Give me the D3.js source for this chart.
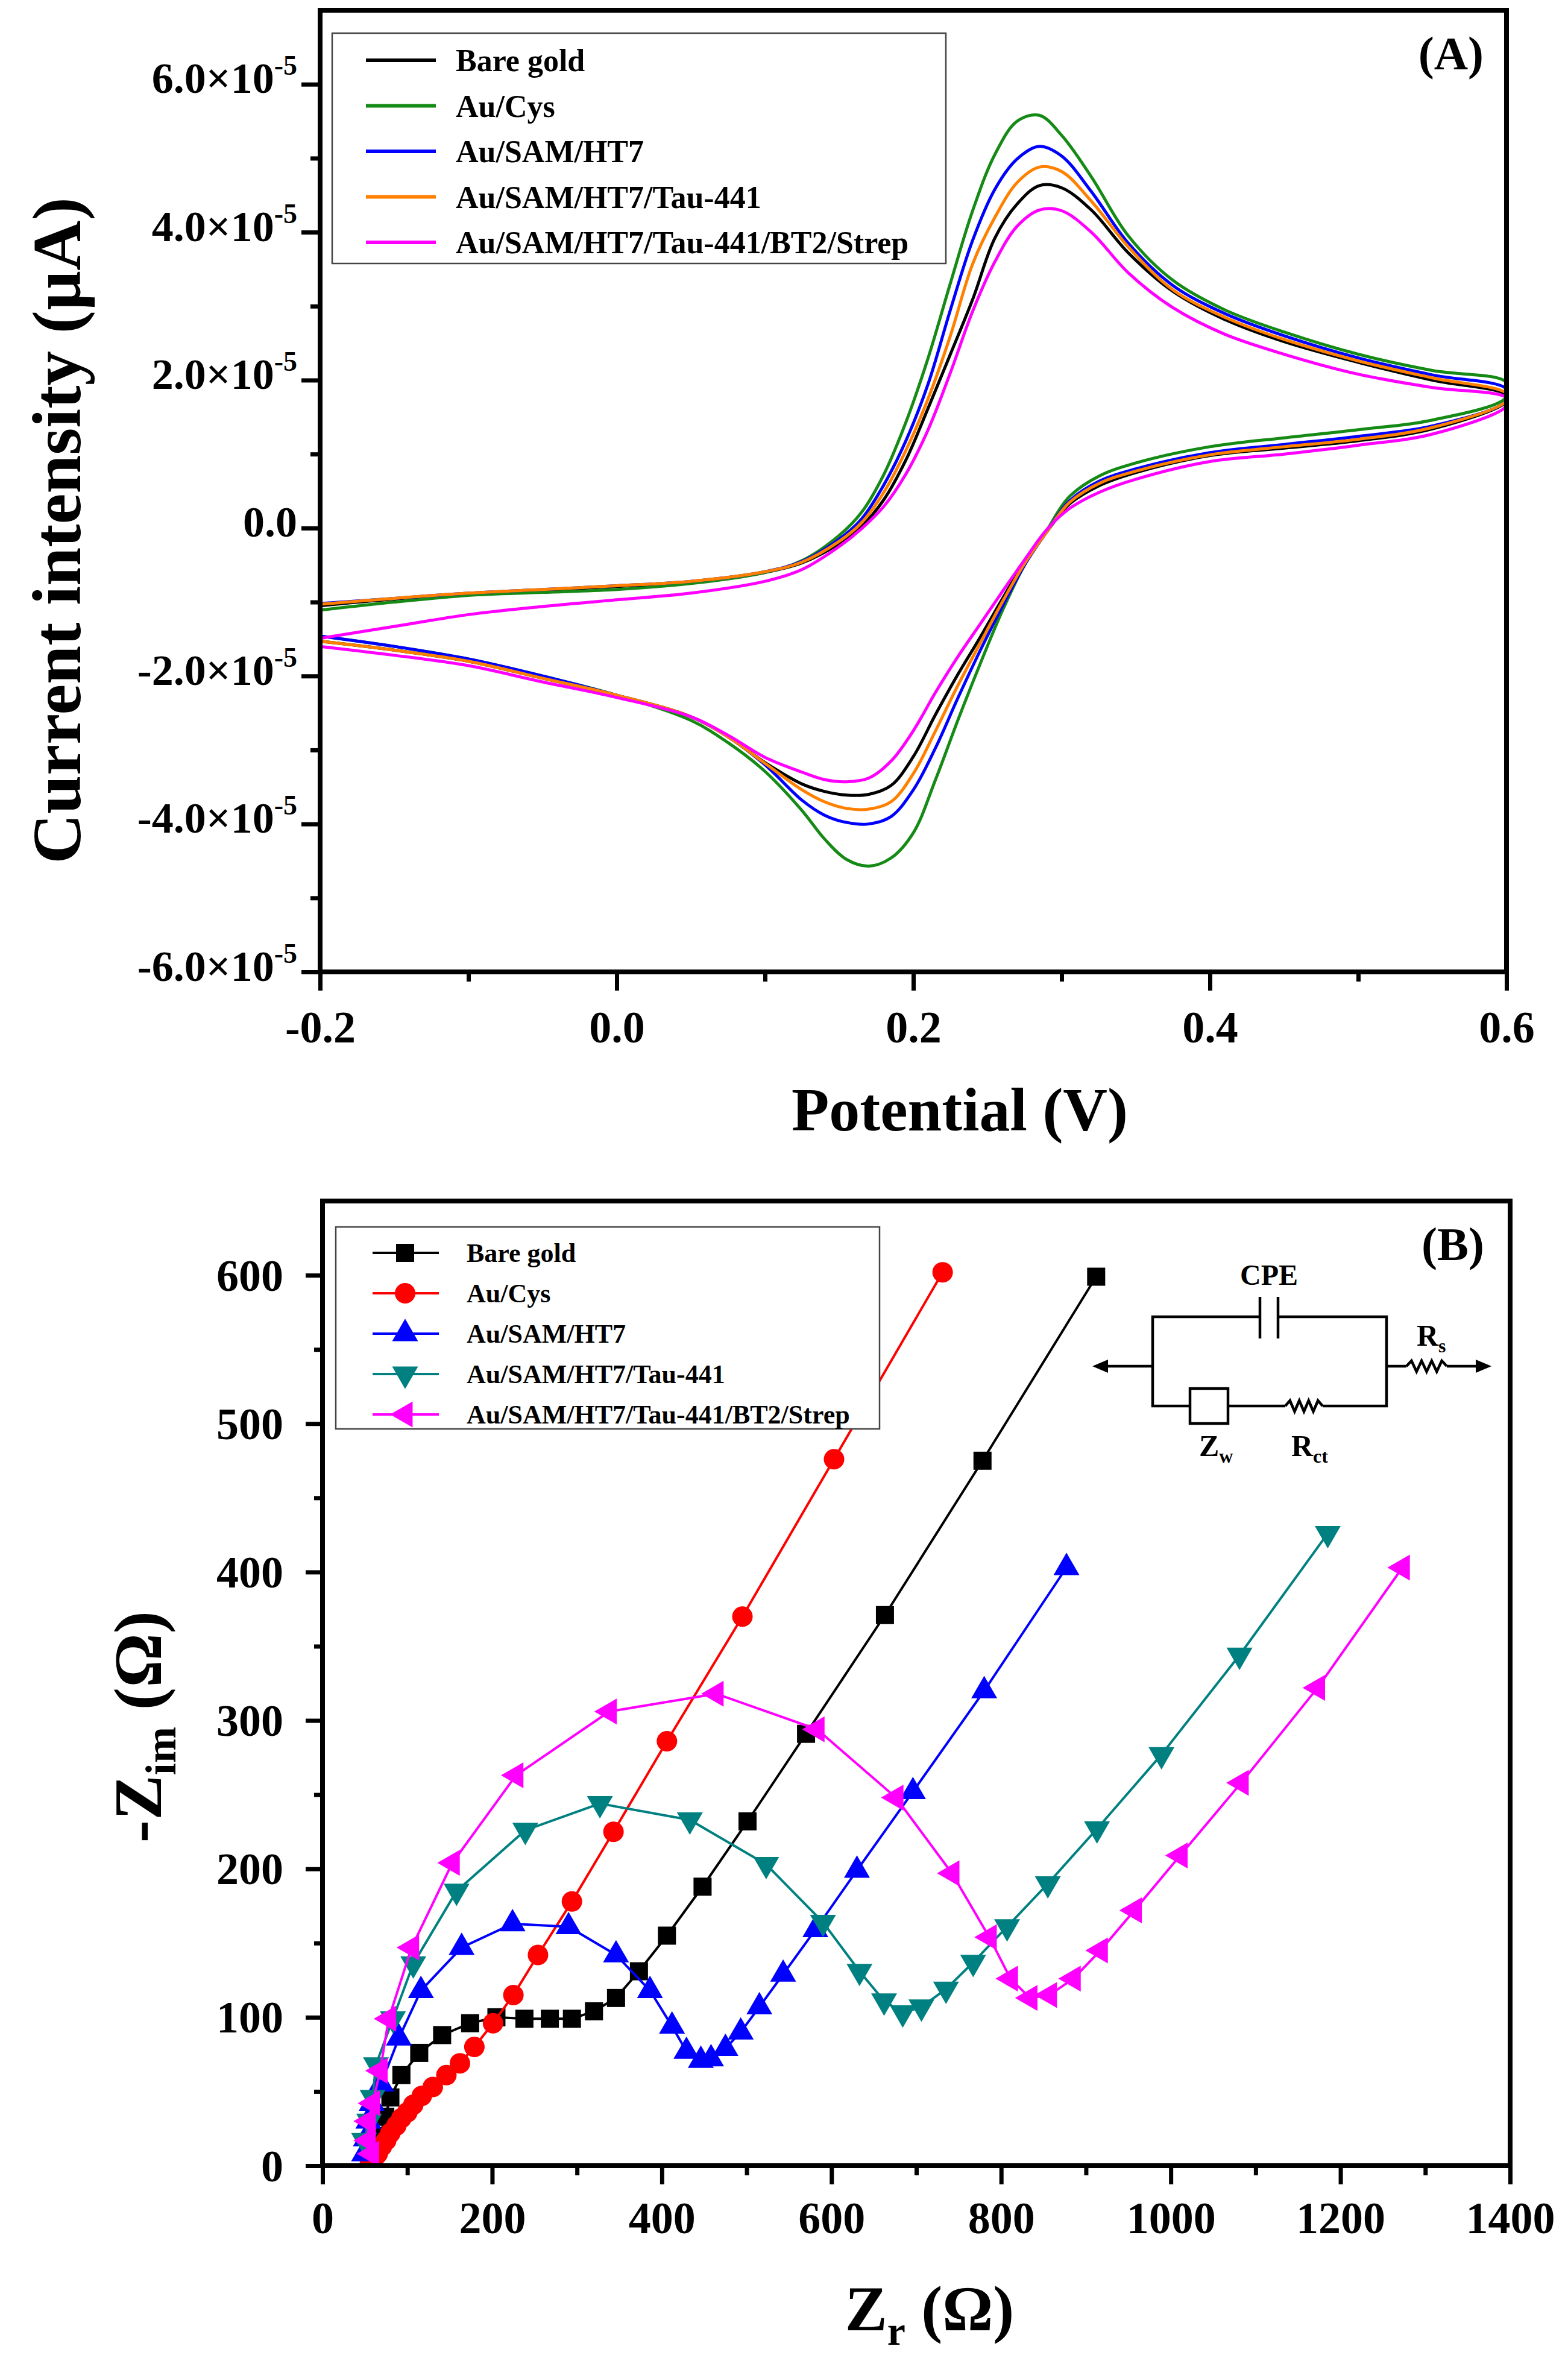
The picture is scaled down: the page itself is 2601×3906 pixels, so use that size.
<!DOCTYPE html>
<html>
<head>
<meta charset="utf-8">
<script src="https://cdn.jsdelivr.net/npm/d3@7"></script>
<style>
  body { margin: 0; background: #fff; }
</style>
</head>
<body>
<div id="chart"></div>
<script>
// ---------- (A) cyclic voltammetry data, current in units of 1e-5 A ----------
const cvForwardV = [-0.2, -0.15, -0.1, -0.05, 0, 0.05, 0.1, 0.125, 0.15, 0.165, 0.18, 0.195, 0.21, 0.225,
  0.24, 0.255, 0.27, 0.285, 0.3, 0.32, 0.345, 0.375, 0.41, 0.45, 0.5, 0.55, 0.6];
const cvReverseV = [0.6, 0.55, 0.5, 0.45, 0.4, 0.35, 0.325, 0.305, 0.29, 0.275, 0.26, 0.245, 0.23, 0.215,
  0.2, 0.185, 0.17, 0.155, 0.14, 0.125, 0.1, 0.075, 0.05, 0, -0.05, -0.1, -0.15, -0.2];

const bareFwd = [-1.05, -0.96, -0.89, -0.84, -0.79, -0.73, -0.6, -0.47, -0.21, 0.02, 0.38, 0.92, 1.62, 2.35,
  3.09, 3.92, 4.38, 4.63, 4.6, 4.3, 3.72, 3.2, 2.82, 2.52, 2.24, 2.0, 1.8];
const bareRev = [1.71, 1.34, 1.18, 1.08, 0.98, 0.75, 0.57, 0.32, -0.05, -0.46, -0.96, -1.48, -1.98, -2.52,
  -3.09, -3.48, -3.6, -3.61, -3.56, -3.46, -3.17, -2.82, -2.55, -2.26, -2.03, -1.8, -1.65, -1.53];
const cysFwd = [-1.11, -1.0, -0.91, -0.87, -0.83, -0.75, -0.6, -0.44, -0.1, 0.21, 0.72, 1.43, 2.3, 3.31,
  4.29, 5.05, 5.5, 5.58, 5.31, 4.75, 3.95, 3.35, 2.95, 2.65, 2.35, 2.13, 1.97];
const cysRev = [1.77, 1.46, 1.33, 1.22, 1.1, 0.88, 0.7, 0.42, -0.03, -0.5, -1.12, -1.84, -2.6, -3.4,
  -4.12, -4.46, -4.57, -4.48, -4.2, -3.82, -3.29, -2.9, -2.6, -2.26, -2.0, -1.77, -1.6, -1.46];
const ht7Fwd = [-1.02, -0.95, -0.88, -0.83, -0.78, -0.72, -0.59, -0.45, -0.15, 0.12, 0.58, 1.18, 1.95, 2.95,
  3.89, 4.58, 4.99, 5.16, 5.03, 4.55, 3.85, 3.28, 2.9, 2.6, 2.3, 2.07, 1.88];
const ht7Rev = [1.72, 1.38, 1.24, 1.13, 1.02, 0.8, 0.63, 0.36, -0.05, -0.5, -1.06, -1.66, -2.3, -2.97,
  -3.54, -3.9, -4.0, -3.98, -3.88, -3.68, -3.2, -2.82, -2.55, -2.26, -2.0, -1.77, -1.6, -1.46];
const tauFwd = [-1.03, -0.95, -0.88, -0.83, -0.78, -0.72, -0.59, -0.46, -0.18, 0.07, 0.48, 1.05, 1.75, 2.6,
  3.57, 4.2, 4.67, 4.88, 4.82, 4.42, 3.8, 3.22, 2.85, 2.55, 2.26, 2.03, 1.82];
const tauRev = [1.72, 1.36, 1.2, 1.1, 0.99, 0.77, 0.6, 0.34, -0.05, -0.48, -1.0, -1.56, -2.13, -2.74,
  -3.32, -3.7, -3.8, -3.79, -3.7, -3.54, -3.18, -2.82, -2.55, -2.26, -2.03, -1.8, -1.65, -1.53];
const strepFwd = [-1.49, -1.33, -1.17, -1.06, -0.97, -0.88, -0.72, -0.56, -0.25, -0.01, 0.29, 0.73, 1.33, 2.1,
  2.93, 3.6, 4.08, 4.3, 4.29, 4.0, 3.45, 2.98, 2.62, 2.35, 2.08, 1.9, 1.76];
const strepRev = [1.65, 1.27, 1.12, 1.0, 0.9, 0.66, 0.48, 0.26, -0.02, -0.43, -0.86, -1.3, -1.74, -2.22,
  -2.74, -3.15, -3.38, -3.43, -3.4, -3.3, -3.1, -2.8, -2.55, -2.29, -2.08, -1.86, -1.72, -1.6];

const seriesNames = ["Bare gold", "Au/Cys", "Au/SAM/HT7", "Au/SAM/HT7/Tau-441", "Au/SAM/HT7/Tau-441/BT2/Strep"];
const cvColors = ["#000000", "#158a15", "#0000ff", "#ff8000", "#ff00ff"];
const cvYTicks = [-6, -4, -2, 0, 2, 4, 6];
const cvYMinor = [-5, -3, -1, 1, 3, 5];
const cvXTicks = [-0.2, 0, 0.2, 0.4, 0.6];
const cvXMinor = [-0.1, 0.1, 0.3, 0.5];

// ---------- (B) Nyquist data, [Zr, -Zim] in ohm ----------
const eisBare = [[60, 3], [63, 9], [68, 20], [74, 33], [80, 46], [93, 61], [114, 76], [141, 88], [174, 96],
  [205, 100], [238, 99], [268, 99], [294, 99], [320, 104], [346, 113], [373, 131], [406, 155], [448, 188],
  [501, 232], [570, 291], [663, 371], [778, 475], [912, 599]];
const eisCys = [[56, 2], [61, 5], [65, 8], [70, 13], [75, 17], [80, 22], [87, 27], [93, 32], [100, 36],
  [107, 41], [117, 47], [130, 53], [146, 61], [162, 69], [179, 80], [201, 96], [225, 115], [254, 142],
  [294, 178], [343, 225], [406, 286], [495, 370], [603, 476], [731, 602]];
const eisHT7 = [[49, 8], [51, 18], [54, 30], [58, 42], [69, 55], [90, 86], [116, 118], [164, 147], [224, 163],
  [290, 161], [346, 142], [386, 118], [412, 94], [429, 77], [446, 71], [458, 72], [475, 79], [493, 90],
  [515, 107], [543, 129], [581, 159], [630, 199], [696, 252], [780, 320], [877, 403]];
const eisTau = [[49, 17], [55, 30], [59, 46], [63, 68], [83, 99], [107, 136], [158, 185], [239, 226],
  [327, 244], [433, 233], [523, 203], [590, 164], [633, 131], [662, 111], [684, 103], [706, 107], [735, 119],
  [767, 137], [807, 161], [855, 190], [913, 227], [989, 277], [1081, 344], [1185, 426]];
const eisStrep = [[58, 8], [54, 17], [54, 30], [59, 42], [68, 64], [78, 99], [105, 147], [153, 204],
  [228, 263], [338, 306], [464, 318], [583, 294], [676, 248], [742, 197], [786, 154], [811, 126], [834, 113],
  [857, 115], [885, 126], [917, 145], [957, 172], [1011, 209], [1083, 258], [1173, 322], [1273, 403]];

const eisColors = ["#000000", "#ff0000", "#0000ff", "#008080", "#ff00ff"];
const eisMarkers = ["square", "circle", "up", "down", "left"];
const eisYTicks = [0, 100, 200, 300, 400, 500, 600];
const eisYMinor = [50, 150, 250, 350, 450, 550];
const eisXTicks = [0, 200, 400, 600, 800, 1000, 1200, 1400];
const eisXMinor = [100, 300, 500, 700, 900, 1100, 1300];

// ---------- setup ----------
const FONT = '"Liberation Serif", "Times New Roman", serif';
const svg = d3.select("#chart").append("svg")
  .attr("width", 2601)
  .attr("height", 3906);
svg.append("rect").attr("width", 2601).attr("height", 3906).attr("fill", "#fff");

function txt(sel) {
  return sel.attr("font-family", FONT).attr("font-weight", "bold").attr("fill", "#000");
}

function styleAxis(g, fontSize) {
  g.select(".domain").remove();
  g.selectAll(".tick line").attr("stroke", "#000").attr("stroke-width", 7);
  txt(g.selectAll(".tick text")).attr("font-size", fontSize);
}

// ================= Panel A =================
const aL = 531, aR = 2499, aT = 17, aB = 1612;
const cvX = d3.scaleLinear().domain([-0.2, 0.6]).range([aL, aR]);
const cvY = d3.scaleLinear().domain([-6, 7]).range([aB, aT]);

svg.append("clipPath").attr("id", "clipA").append("rect")
  .attr("x", aL).attr("y", aT).attr("width", aR - aL).attr("height", aB - aT);

const cvSeries = [
  { fwd: bareFwd, rev: bareRev },
  { fwd: cysFwd, rev: cysRev },
  { fwd: ht7Fwd, rev: ht7Rev },
  { fwd: tauFwd, rev: tauRev },
  { fwd: strepFwd, rev: strepRev }
];

const cvLine = d3.line()
  .x(d => cvX(d[0]))
  .y(d => cvY(d[1]))
  .curve(d3.curveCatmullRom.alpha(0.5));

const gA = svg.append("g").attr("clip-path", "url(#clipA)");
cvSeries.forEach((s, i) => {
  const pts = cvForwardV.map((v, j) => [v, s.fwd[j]])
    .concat(cvReverseV.map((v, j) => [v, s.rev[j]]));
  gA.append("path")
    .datum(pts)
    .attr("d", cvLine)
    .attr("fill", "none")
    .attr("stroke", cvColors[i])
    .attr("stroke-width", 5)
    .attr("stroke-linejoin", "round");
});

// y axis (A)
const ayMajor = svg.append("g").attr("transform", `translate(${aL},0)`)
  .call(d3.axisLeft(cvY).tickValues(cvYTicks).tickSize(31).tickPadding(7)
    .tickFormat(d => d === 0 ? "0.0" : d.toFixed(1) + "\u00d710"));
styleAxis(ayMajor, 72);
ayMajor.selectAll(".tick text").attr("dy", 14);
ayMajor.selectAll(".tick text").filter(d => d !== 0)
  .append("tspan").attr("dy", -30).attr("font-size", 46).text("-5");
const ayMinor = svg.append("g").attr("transform", `translate(${aL},0)`)
  .call(d3.axisLeft(cvY).tickValues(cvYMinor).tickSize(16).tickFormat(""));
styleAxis(ayMinor, 10);

// x axis (A)
const axMajor = svg.append("g").attr("transform", `translate(0,${aB})`)
  .call(d3.axisBottom(cvX).tickValues(cvXTicks).tickSize(31).tickFormat(d => d.toFixed(1)));
styleAxis(axMajor, 74);
axMajor.selectAll(".tick text").attr("y", 117).attr("dy", 0);
const axMinor = svg.append("g").attr("transform", `translate(0,${aB})`)
  .call(d3.axisBottom(cvX).tickValues(cvXMinor).tickSize(16).tickFormat(""));
styleAxis(axMinor, 10);

svg.append("rect")
  .attr("x", aL).attr("y", aT).attr("width", aR - aL).attr("height", aB - aT)
  .attr("fill", "none").attr("stroke", "#000").attr("stroke-width", 8);

// titles (A)
txt(svg.append("text"))
  .attr("x", 1592).attr("y", 1875)
  .attr("text-anchor", "middle").attr("font-size", 102)
  .text("Potential (V)");
txt(svg.append("text"))
  .attr("transform", "translate(133,880) rotate(-90)")
  .attr("text-anchor", "middle").attr("font-size", 115)
  .text("Current intensity (\u00b5A)");
txt(svg.append("text"))
  .attr("x", 2461).attr("y", 115)
  .attr("text-anchor", "end").attr("font-size", 78)
  .text("(A)");

// legend (A)
const legA = svg.append("g");
legA.append("rect")
  .attr("x", 551).attr("y", 55).attr("width", 1018).attr("height", 382)
  .attr("fill", "#fff").attr("stroke", "#444").attr("stroke-width", 2.5);
seriesNames.forEach((name, i) => {
  const y = 100 + i * 75.5;
  legA.append("line")
    .attr("x1", 607).attr("x2", 723).attr("y1", y).attr("y2", y)
    .attr("stroke", cvColors[i]).attr("stroke-width", 6);
  txt(legA.append("text"))
    .attr("x", 756).attr("y", y).attr("dy", "0.35em")
    .attr("font-size", 52)
    .text(name);
});

// ================= Panel B =================
const bL = 535, bR = 2505, bT = 1992, bB = 3592;
const eisX = d3.scaleLinear().domain([0, 1400]).range([bL, bR]);
const eisY = d3.scaleLinear().domain([0, 650]).range([bB, bT]);

svg.append("clipPath").attr("id", "clipB").append("rect")
  .attr("x", bL).attr("y", bT).attr("width", bR - bL).attr("height", bB - bT);

const eisSeries = [eisBare, eisCys, eisHT7, eisTau, eisStrep];

function markerPath(kind) {
  if (kind === "square") return d3.symbol(d3.symbolSquare, 900)();
  if (kind === "circle") return d3.symbol(d3.symbolCircle, 910)();
  return d3.symbol(d3.symbolTriangle, 800)();
}
function markerRotate(kind) {
  if (kind === "down") return 180;
  if (kind === "left") return -90;
  return 0;
}

const eisLine = d3.line().x(d => eisX(d[0])).y(d => eisY(d[1]));
const gB = svg.append("g").attr("clip-path", "url(#clipB)");
eisSeries.forEach((data, i) => {
  gB.append("path")
    .datum(data)
    .attr("d", eisLine)
    .attr("fill", "none")
    .attr("stroke", eisColors[i])
    .attr("stroke-width", 4);
  gB.selectAll(null)
    .data(data)
    .enter().append("path")
    .attr("d", markerPath(eisMarkers[i]))
    .attr("transform", d => `translate(${eisX(d[0])},${eisY(d[1])}) rotate(${markerRotate(eisMarkers[i])})`)
    .attr("fill", eisColors[i]);
});

// y axis (B)
const byMajor = svg.append("g").attr("transform", `translate(${bL},0)`)
  .call(d3.axisLeft(eisY).tickValues(eisYTicks).tickSize(28).tickPadding(37).tickFormat(d => d));
styleAxis(byMajor, 74);
byMajor.selectAll(".tick text").attr("dy", 25);
const byMinor = svg.append("g").attr("transform", `translate(${bL},0)`)
  .call(d3.axisLeft(eisY).tickValues(eisYMinor).tickSize(14).tickFormat(""));
styleAxis(byMinor, 10);

// x axis (B)
const bxMajor = svg.append("g").attr("transform", `translate(0,${bB})`)
  .call(d3.axisBottom(eisX).tickValues(eisXTicks).tickSize(31).tickFormat(d => d));
styleAxis(bxMajor, 74);
bxMajor.selectAll(".tick text").attr("y", 112).attr("dy", 0);
const bxMinor = svg.append("g").attr("transform", `translate(0,${bB})`)
  .call(d3.axisBottom(eisX).tickValues(eisXMinor).tickSize(16).tickFormat(""));
styleAxis(bxMinor, 10);

svg.append("rect")
  .attr("x", bL).attr("y", bT).attr("width", bR - bL).attr("height", bB - bT)
  .attr("fill", "none").attr("stroke", "#000").attr("stroke-width", 8);

// titles (B)
const bxTitle = txt(svg.append("text"))
  .attr("x", 1542).attr("y", 3865)
  .attr("text-anchor", "middle").attr("font-size", 105);
bxTitle.append("tspan").text("Z");
bxTitle.append("tspan").attr("font-size", 68).attr("dy", 24).text("r");
bxTitle.append("tspan").attr("dy", -24).text(" (\u03a9)");

const byTitle = txt(svg.append("text"))
  .attr("transform", "translate(267,2864) rotate(-90)")
  .attr("text-anchor", "middle").attr("font-size", 112);
byTitle.append("tspan").text("-Z");
byTitle.append("tspan").attr("font-size", 72).attr("dy", 24).text("im");
byTitle.append("tspan").attr("dy", -24).text(" (\u03a9)");

txt(svg.append("text"))
  .attr("x", 2462).attr("y", 2090)
  .attr("text-anchor", "end").attr("font-size", 78)
  .text("(B)");

// legend (B)
const legB = svg.append("g");
legB.append("rect")
  .attr("x", 557).attr("y", 2035).attr("width", 902).attr("height", 335)
  .attr("fill", "#fff").attr("stroke", "#444").attr("stroke-width", 2.5);
seriesNames.forEach((name, i) => {
  const y = 2078 + i * 67;
  legB.append("line")
    .attr("x1", 618).attr("x2", 728).attr("y1", y).attr("y2", y)
    .attr("stroke", eisColors[i]).attr("stroke-width", 4);
  legB.append("path")
    .attr("d", markerPath(eisMarkers[i]))
    .attr("transform", `translate(672,${y}) rotate(${markerRotate(eisMarkers[i])})`)
    .attr("fill", eisColors[i]);
  txt(legB.append("text"))
    .attr("x", 774).attr("y", y).attr("dy", "0.35em")
    .attr("font-size", 44)
    .text(name);
});

// equivalent circuit inset
const circ = svg.append("g").attr("fill", "none").attr("stroke", "#000").attr("stroke-width", 4.5);
circ.append("path").attr("d",
  "M2090,2184 H1912 V2332 H1974 M2037,2332 H2132 M2194,2332 H2300 V2184 H2120" +
  " M2090,2151 V2220 M2120,2151 V2220" +
  " M1912,2266 H1832 M2300,2266 H2333 M2400,2266 H2452");
circ.append("rect").attr("x", 1974).attr("y", 2303).attr("width", 63).attr("height", 58);

function zigzag(x0, x1, y) {
  const n = 8, step = (x1 - x0) / n;
  const pts = [[x0, y]];
  for (let k = 1; k < n; k++) pts.push([x0 + k * step, y + (k % 2 ? -9 : 9)]);
  pts.push([x1, y]);
  circ.append("path").attr("d", d3.line()(pts));
}
zigzag(2132, 2194, 2332);
zigzag(2333, 2400, 2266);

svg.append("path").attr("d", "M1812,2266 L1838,2255 L1838,2277 Z").attr("fill", "#000");
svg.append("path").attr("d", "M2474,2266 L2448,2255 L2448,2277 Z").attr("fill", "#000");

txt(svg.append("text")).attr("x", 2105).attr("y", 2131)
  .attr("text-anchor", "middle").attr("font-size", 48).text("CPE");
function subLabel(x, y, main, sub) {
  const t = txt(svg.append("text")).attr("x", x).attr("y", y).attr("font-size", 50);
  t.append("tspan").text(main);
  t.append("tspan").attr("font-size", 32).attr("dy", 11).text(sub);
}
subLabel(2350, 2232, "R", "s");
subLabel(1989, 2415, "Z", "w");
subLabel(2142, 2415, "R", "ct");
</script>
</body>
</html>
